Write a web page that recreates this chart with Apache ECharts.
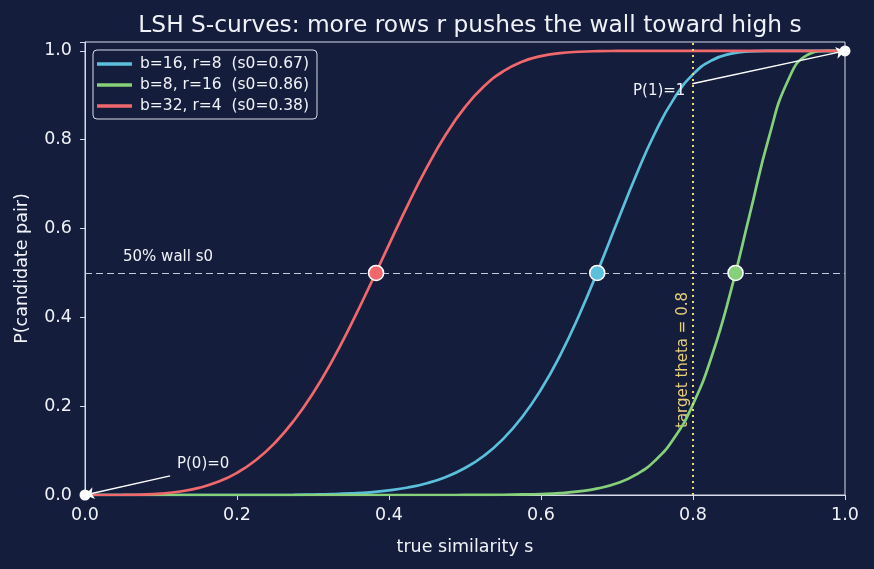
<!DOCTYPE html>
<html>
<head>
<meta charset="utf-8">
<script src="https://cdn.jsdelivr.net/npm/echarts@6/dist/echarts.min.js"></script>
<style>
  html, body { margin: 0; padding: 0; background: #141e3c; }
  #main { width: 874px; height: 569px; }
</style>
</head>
<body>
<div id="main"></div>
<script>
// similarity values along the x axis
var simS = [0, 0.025, 0.05, 0.075, 0.1, 0.125, 0.15, 0.175, 0.2, 0.225, 0.25, 0.275, 0.3, 0.325, 0.35, 0.375,
  0.4, 0.425, 0.45, 0.475, 0.5, 0.525, 0.55, 0.575, 0.6, 0.625, 0.65, 0.675, 0.7, 0.725, 0.75, 0.775,
  0.8, 0.825, 0.85, 0.875, 0.9, 0.925, 0.95, 0.975, 1];
// P(candidate pair)
var probB16R8 = [0, 0, 0, 0, 0, 0, 0, 0, 0, 0, 0, 0.0002, 0.001, 0.002, 0.0036, 0.006,
  0.0104, 0.0169, 0.0266, 0.0407, 0.0607, 0.0884, 0.1259, 0.175, 0.2374, 0.314, 0.4043, 0.5058, 0.6133, 0.7193, 0.8151, 0.8925,
  0.9471, 0.979, 0.9938, 0.9988, 0.9999, 1, 1, 1, 1];
var probB8R16 = [0, 0, 0, 0, 0, 0, 0, 0, 0, 0, 0, 0, 0, 0, 0, 0,
  0, 0, 0, 0, 0.0001, 0.0003, 0.0006, 0.0012, 0.0023, 0.0043, 0.0081, 0.0148, 0.0263, 0.0457, 0.0774, 0.1277,
  0.2042, 0.3142, 0.4606, 0.634, 0.806, 0.9334, 0.9903, 0.9998, 1];
var probB32R4 = [0, 0, 0.0002, 0.001, 0.0032, 0.0078, 0.0161, 0.0296, 0.0499, 0.0788, 0.1177, 0.1677, 0.2292, 0.3016, 0.3836, 0.4723,
  0.5639, 0.654, 0.7381, 0.8121, 0.8732, 0.9202, 0.9536, 0.9754, 0.9882, 0.995, 0.9981, 0.9994, 0.9998, 1, 1, 1,
  1, 1, 1, 1, 1, 1, 1, 1, 1];
var curveNames = ['b=16, r=8  (s0=0.67)', 'b=8, r=16  (s0=0.86)', 'b=32, r=4  (s0=0.38)'];
var curveColors = ['#5bc0dc', '#86d07a', '#f0686c'];
var wallS0 = [0.674, 0.856, 0.383];
var theta = 0.8;

function pairs(ys) {
  return simS.map(function(s, i) { return [s, ys[i]]; });
}

var chart = echarts.init(document.getElementById('main'));
var txt = '#f0f2f8';
var font = 'DejaVu Sans';
var frame = '#d8dce8';

var curves = [probB16R8, probB8R16, probB32R4].map(function(ys, i) {
  return {
    name: curveNames[i],
    type: 'line',
    data: pairs(ys),
    smooth: true,
    showSymbol: false,
    lineStyle: { color: curveColors[i], width: 2.7 },
    itemStyle: { color: curveColors[i] },
    z: 3
  };
});

var wallPoints = {
  type: 'scatter',
  data: wallS0.map(function(s, i) {
    return { value: [s, 0.5], itemStyle: { color: curveColors[i] } };
  }),
  symbolSize: 15,
  itemStyle: { borderColor: '#ffffff', borderWidth: 1.6, opacity: 1 },
  z: 5
};

var guides = {
  type: 'line',
  data: [],
  silent: true,
  markLine: {
    symbol: 'none',
    silent: true,
    label: { show: false },
    data: [
      { yAxis: 0.5, lineStyle: { color: '#c4cadc', type: [7, 4], width: 1.2 } },
      { xAxis: theta, lineStyle: { color: '#f0d878', type: [2, 4], width: 2 } }
    ]
  },
  z: 2
};

var noteLabel = function(text, pos) {
  return { show: true, formatter: text, position: pos, distance: 0, color: txt, fontSize: 15, fontFamily: font };
};

var annotations = {
  type: 'scatter',
  data: [[0, 0], [1, 1]],
  symbolSize: 11,
  itemStyle: { color: '#ffffff', opacity: 1 },
  z: 6,
  markLine: {
    silent: true,
    symbol: ['none', 'arrow'],
    symbolSize: 9,
    label: { show: false },
    lineStyle: { color: '#ffffff', type: 'solid', width: 1.3 },
    data: [
      [{ coord: [0.799, 0.926] }, { coord: [1, 1] }],
      [{ coord: [0.112, 0.043] }, { coord: [0, 0] }]
    ]
  },
  markPoint: {
    symbol: 'circle',
    symbolSize: 0,
    silent: true,
    data: [
      { coord: [0.79, 0.91], label: noteLabel('P(1)=1', 'left') },
      { coord: [0.121, 0.07], label: noteLabel('P(0)=0', 'right') },
      { coord: [0.05, 0.536], label: noteLabel('50% wall s0', 'right') }
    ]
  }
};

var option = {
  backgroundColor: '#141e3c',
  animation: false,
  title: {
    text: 'LSH S-curves: more rows r pushes the wall toward high s',
    left: 465,
    textAlign: 'center',
    top: 9,
    textStyle: { color: txt, fontSize: 23.3, fontWeight: 'normal', fontFamily: font }
  },
  legend: {
    orient: 'vertical',
    left: 93,
    top: 50,
    data: curveNames,
    icon: 'rect',
    itemWidth: 35,
    itemHeight: 3.5,
    itemGap: 5,
    padding: [6, 8, 5, 4],
    borderColor: frame,
    borderWidth: 1,
    borderRadius: 4,
    backgroundColor: 'rgba(20,30,60,0.85)',
    textStyle: { color: txt, fontSize: 15.5, fontFamily: font, padding: [0, 0, 0, 3] }
  },
  grid: {
    left: 85, right: 29, top: 42, bottom: 74,
    show: true,
    borderColor: frame,
    borderWidth: 1,
    backgroundColor: 'transparent'
  },
  xAxis: {
    type: 'value',
    min: 0, max: 1, interval: 0.2,
    name: 'true similarity s',
    nameLocation: 'middle',
    nameGap: 43,
    nameTextStyle: { color: txt, fontSize: 17.5, fontFamily: font },
    axisLine: { show: true, lineStyle: { color: frame } },
    axisTick: { show: true, length: 5, lineStyle: { color: frame } },
    axisLabel: { color: txt, fontSize: 17.5, fontFamily: font, margin: 11,
      formatter: function(v) { return v.toFixed(1); } },
    splitLine: { show: false }
  },
  yAxis: {
    type: 'value',
    min: 0, max: 1.02, interval: 0.2,
    name: 'P(candidate pair)',
    nameLocation: 'middle',
    nameGap: 54,
    nameTextStyle: { color: txt, fontSize: 17.5, fontFamily: font },
    axisLine: { show: true, lineStyle: { color: frame } },
    axisTick: { show: true, length: 5, lineStyle: { color: frame } },
    axisLabel: { color: txt, fontSize: 17.5, fontFamily: font, margin: 13,
      formatter: function(v) { return v > 1.01 ? '' : v.toFixed(1); } },
    splitLine: { show: false }
  },
  series: [guides].concat(curves, [wallPoints, annotations])
};

chart.setOption(option);

// rotated label beside the target line, placed through the chart's own scales
var thetaPx = chart.convertToPixel({ gridIndex: 0 }, [theta, 0.304]);
chart.setOption({
  graphic: [{
    type: 'text',
    x: thetaPx[0] - 10,
    y: thetaPx[1],
    rotation: Math.PI / 2,
    silent: true,
    style: {
      text: 'target theta = 0.8',
      fill: '#e8cf7a',
      fontSize: 15,
      fontFamily: font,
      align: 'center',
      verticalAlign: 'middle'
    }
  }]
});
</script>
</body>
</html>
